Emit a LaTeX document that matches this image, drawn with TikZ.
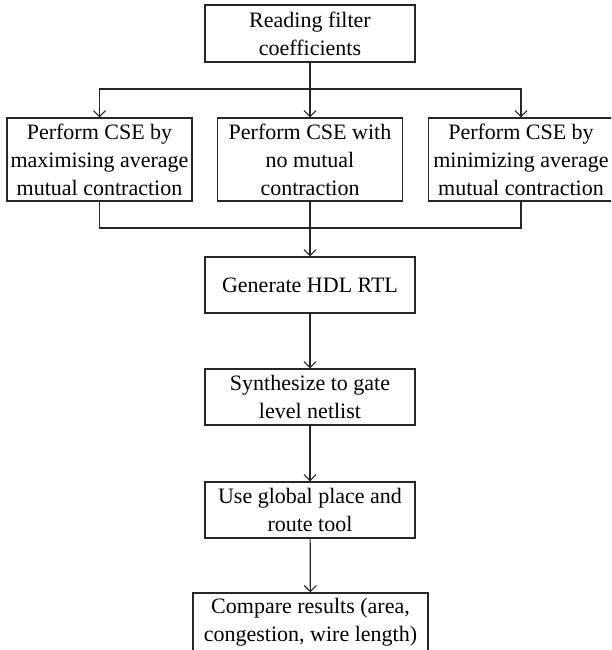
\documentclass[tikz,border=0pt]{standalone}
\usepackage{fontspec}
\setmainfont{Liberation Serif}
\usetikzlibrary{arrows.meta}
\begin{document}
\begin{tikzpicture}[x=1pt,y=-1pt,
  stage/.style={draw=black!85, line width=1.3pt, inner sep=0pt, align=center,
    font=\fontsize{22}{28}\selectfont},
  wide/.style={stage, minimum width=210pt, minimum height=56pt},
  cse/.style={stage, minimum width=185pt, minimum height=83pt},
  link/.style={draw=black!85, line width=1.2pt},
  flow/.style={link, -{Straight Barb[length=6pt,width=12pt,line width=1.1pt]}}]
\clip (0,0) rectangle (611,650);
\fill[white] (0,0) rectangle (611,650);

% top and CSE variants
\node[wide, minimum height=57pt] (read) at (310,33.5) {Reading filter\\coefficients};
\node[cse] (cmax) at (99.5,159.5) {Perform CSE by\\maximising average\\mutual contraction};
\node[cse] (cnone) at (310,159.5) {Perform CSE with\\no mutual\\contraction};
\node[cse] (cmin) at (521,159.5) {Perform CSE by\\minimizing average\\mutual contraction};

% main flow
\node[wide] (hdl) at (310,285) {Generate HDL RTL};
\node[wide] (synth) at (310,397) {Synthesize to gate\\level netlist};
\node[wide] (pnr) at (310,510) {Use global place and\\route tool};
\node[stage, minimum width=235pt, minimum height=58pt] (cmp) at (310.5,622)
  {Compare results (area,\\congestion, wire length)};

% fan-out and merge points
\coordinate (split) at (310,89);
\coordinate (merge) at (310,228);

\draw[link] (read) -- (split);
\draw[flow] (split) -| (cmax);
\draw[flow] (split) -- (cnone);
\draw[flow] (split) -| (cmin);

\draw[link] (cmax) |- (merge);
\draw[link] (cmin) |- (merge);
\draw[link] (cnone) -- (merge);
\draw[flow] (merge) -- (hdl);

\draw[flow] (hdl) -- (synth);
\draw[flow] (synth) -- (pnr);
\draw[flow] (pnr) -- (cmp);
\end{tikzpicture}
\end{document}
